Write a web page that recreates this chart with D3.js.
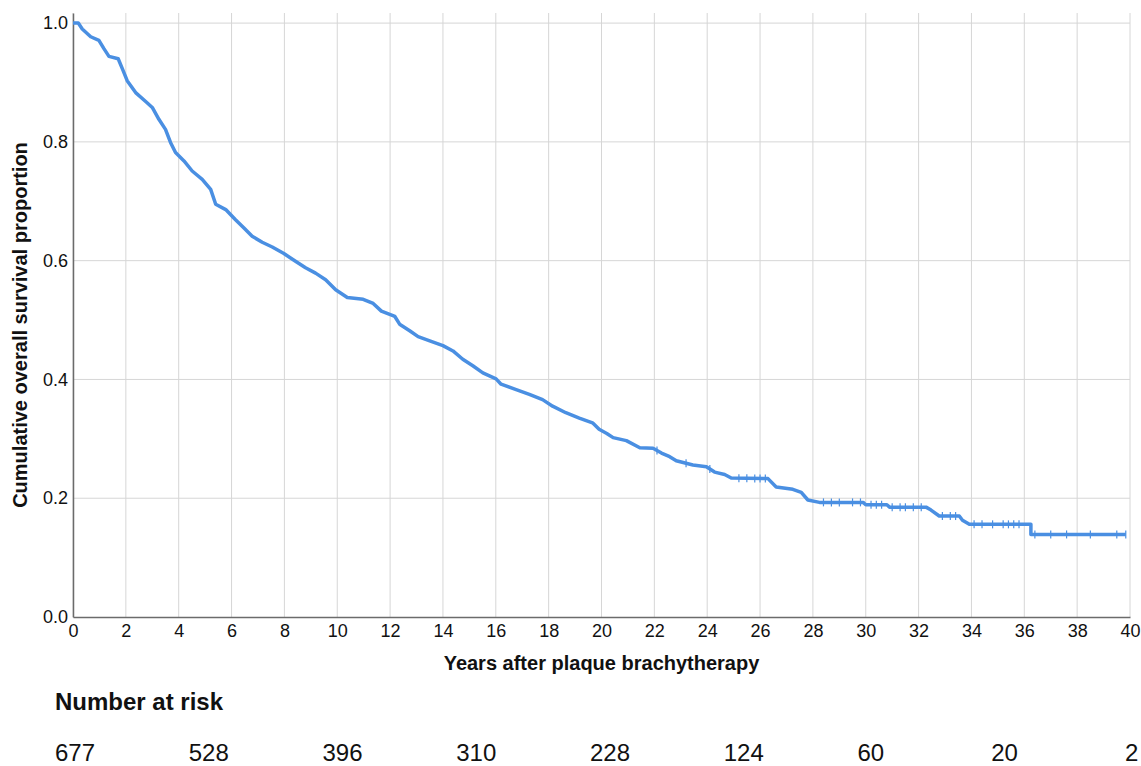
<!DOCTYPE html>
<html>
<head>
<meta charset="utf-8">
<script src="https://cdn.jsdelivr.net/npm/d3@7"></script>
<style>
    body { margin: 0; background: #fff; }
    svg text { font-family: "Liberation Sans", Arial, Helvetica, sans-serif; fill: #111; }
</style>
</head>
<body>
<div class="chart_container"></div>
<script>
//^ DATA (corner points) //
const survTimes = [0, 0.2, 0.35, 0.67, 0.98, 1.17, 1.36, 1.71, 1.87, 2.05, 2.37, 2.75, 3.0, 3.25, 3.5, 3.69, 3.88,
    4.2, 4.51, 4.89, 5.21, 5.4, 5.78, 6.15, 6.47, 6.78, 7.16, 7.54, 7.98, 8.42, 8.8, 9.18, 9.56, 9.94,
    10.38, 10.98, 11.36, 11.67, 12.18, 12.36, 12.74, 13.06, 13.5, 14.0, 14.38, 14.75, 15.13, 15.51,
    16.01, 16.2, 16.77, 17.27, 17.77, 18.15, 18.65, 19.16, 19.66, 19.91, 20.2, 20.44, 20.94,
    21.45, 21.95, 22.27, 22.58, 22.83, 23.46, 23.97, 24.28, 24.66, 24.91, 26.3, 26.61, 27.24, 27.56,
    27.81, 28.25, 29.9, 30.0, 30.8, 30.9, 32.28, 32.47, 32.78, 33.54, 33.66, 33.92, 36.25, 36.25, 39.84];
const survValues = [1.0, 1.0, 0.990, 0.977, 0.971, 0.957, 0.944, 0.940, 0.923, 0.903, 0.883, 0.868, 0.858, 0.838, 0.821, 0.799, 0.782,
    0.768, 0.751, 0.737, 0.720, 0.695, 0.686, 0.669, 0.655, 0.641, 0.631, 0.623, 0.612, 0.599, 0.588, 0.579, 0.568, 0.551,
    0.538, 0.535, 0.528, 0.515, 0.506, 0.493, 0.482, 0.472, 0.465, 0.457, 0.448, 0.434, 0.423, 0.411,
    0.401, 0.392, 0.383, 0.375, 0.366, 0.355, 0.344, 0.335, 0.327, 0.316, 0.309, 0.302, 0.297,
    0.285, 0.284, 0.276, 0.270, 0.263, 0.256, 0.253, 0.244, 0.240, 0.234, 0.233, 0.219, 0.215, 0.210,
    0.197, 0.193, 0.193, 0.189, 0.189, 0.185, 0.185, 0.180, 0.170, 0.170, 0.163, 0.156, 0.156, 0.139, 0.139];
const censorTimes = [22.1, 23.2, 24.1, 25.2, 25.5, 25.8, 26.0, 26.2, 28.4, 28.7, 29.0, 29.5, 29.8, 30.2, 30.4,
    30.6, 31.0, 31.3, 31.5, 31.8, 32.1, 32.9, 33.2, 33.4, 34.1, 34.4, 34.8, 35.2, 35.4, 35.6, 35.8,
    36.4, 37.0, 37.6, 38.5, 39.5, 39.84];
const xTicks = [0, 2, 4, 6, 8, 10, 12, 14, 16, 18, 20, 22, 24, 26, 28, 30, 32, 34, 36, 38, 40];
const yTicks = [0, 0.2, 0.4, 0.6, 0.8, 1.0];
const riskYears = [0, 5, 10, 15, 20, 25, 30, 35, 40];
const riskCounts = [677, 528, 396, 310, 228, 124, 60, 20, 2];

//^ DIMENSIONS //
const width = 1141;
const height = 766;
const plotLeft = 73, plotRight = 1130, plotTop = 13, plotBottom = 617;
const blue = "#4a8fe2";

const svg = d3.select(".chart_container").append("svg").attr("width", width).attr("height", height);

const xScale = d3.scaleLinear().domain([0, 40]).range([plotLeft, plotRight]);
const yScale = d3.scaleLinear().domain([0, 1.017]).range([plotBottom, plotTop]);

//^ GRID //
svg.append("g").selectAll("line").data(xTicks).enter().append("line")
    .attr("x1", (d) => xScale(d)).attr("x2", (d) => xScale(d))
    .attr("y1", plotTop).attr("y2", plotBottom)
    .attr("stroke", "#d6d6d6").attr("stroke-width", 1);
svg.append("g").selectAll("line").data(yTicks.filter((d) => d > 0)).enter().append("line")
    .attr("x1", plotLeft).attr("x2", plotRight)
    .attr("y1", (d) => yScale(d)).attr("y2", (d) => yScale(d))
    .attr("stroke", "#d6d6d6").attr("stroke-width", 1);

//^ AXES //
const xAxis = d3.axisBottom(xScale).tickValues(xTicks).tickSize(0).tickPadding(7).tickFormat(d3.format("d"));
const gx = svg.append("g").attr("transform", `translate(0,${plotBottom})`).call(xAxis);
gx.select(".domain").attr("stroke", "#6b6b6b").attr("stroke-width", 1.5);
gx.selectAll("text").attr("font-size", 18).attr("font-family", null).attr("fill", "#111");

const yAxis = d3.axisLeft(yScale).tickValues(yTicks).tickSize(0).tickPadding(5).tickFormat(d3.format(".1f"));
const gy = svg.append("g").attr("transform", `translate(${plotLeft},0)`).call(yAxis);
gy.select(".domain").attr("stroke", "#6b6b6b").attr("stroke-width", 1.5);
gy.selectAll("text").attr("font-size", 18).attr("font-family", null).attr("fill", "#111");

//^ AXIS TITLES //
svg.append("text").attr("x", (plotLeft + plotRight) / 2).attr("y", 670).attr("text-anchor", "middle")
    .attr("font-size", 20).attr("font-weight", "bold").text("Years after plaque brachytherapy");
svg.append("text").attr("transform", "rotate(-90)").attr("x", -325).attr("y", 27).attr("text-anchor", "middle")
    .attr("font-size", 20).attr("font-weight", "bold").text("Cumulative overall survival proportion");

//^ SURVIVAL CURVE //
const points = survTimes.map((t, i) => [t, survValues[i]]);
const line = d3.line().x((d) => xScale(d[0])).y((d) => yScale(d[1]));
svg.append("path").datum(points).attr("d", line)
    .attr("fill", "none").attr("stroke", blue).attr("stroke-width", 3.5).attr("stroke-linejoin", "round");

// censor ticks sit on the drawn curve
const survAt = (t) => {
    const i = Math.min(survTimes.length - 1, Math.max(1, d3.bisectRight(survTimes, t)));
    const t0 = survTimes[i - 1], t1 = survTimes[i];
    return t1 === t0 ? survValues[i] : survValues[i - 1] + (survValues[i] - survValues[i - 1]) * (t - t0) / (t1 - t0);
};
svg.append("g").selectAll("line").data(censorTimes).enter().append("line")
    .attr("x1", (d) => xScale(d)).attr("x2", (d) => xScale(d))
    .attr("y1", (d) => yScale(survAt(d)) - 4).attr("y2", (d) => yScale(survAt(d)) + 4)
    .attr("stroke", blue).attr("stroke-width", 1.2);

//^ NUMBER AT RISK //
svg.append("text").attr("x", 55).attr("y", 710).attr("font-size", 24).attr("font-weight", "bold").text("Number at risk");
const riskScale = d3.scalePoint().domain(riskYears).range([55, 1125]);
svg.append("g").selectAll("text").data(riskCounts).enter().append("text")
    .attr("x", (d, i) => riskScale(riskYears[i])).attr("y", 761)
    .attr("font-size", 24).text((d) => d);
</script>
</body>
</html>
